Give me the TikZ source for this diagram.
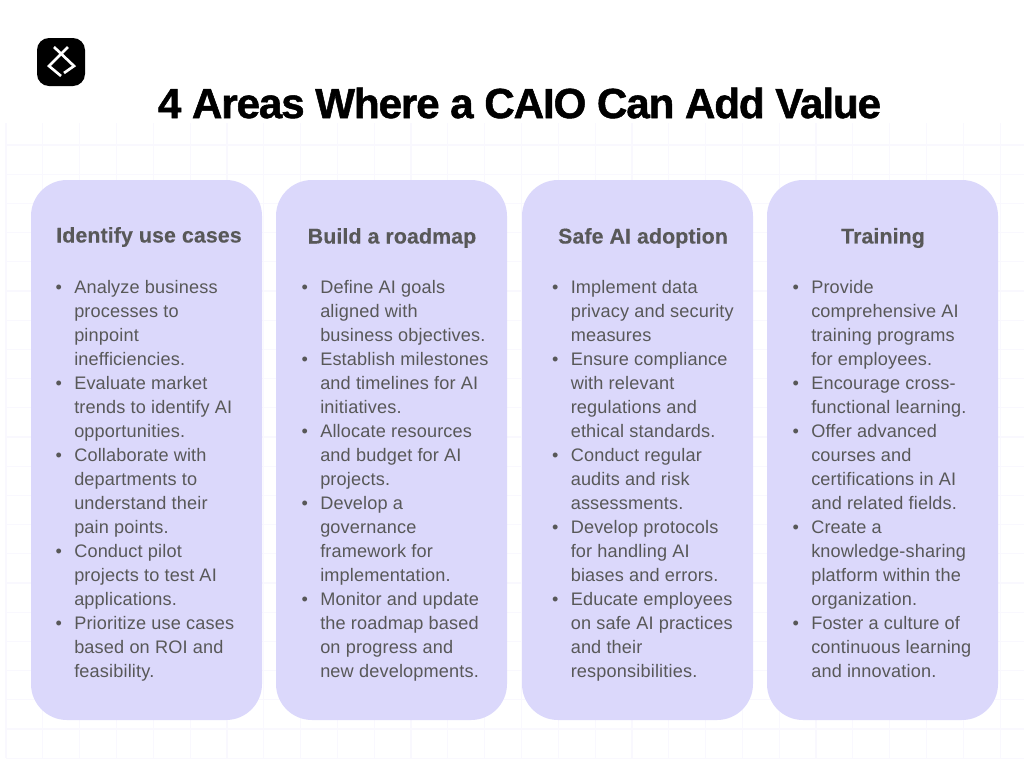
\documentclass[tikz,border=0pt]{standalone}
\usepackage{fontspec}
\setmainfont{Liberation Sans}[LetterSpace=0.9]
\newfontfamily\titlefont{Liberation Sans Bold}[LetterSpace=-2.6,FakeBold=1.2]
\newfontfamily\headfont{Liberation Sans Bold}[LetterSpace=0.5,FakeBold=0.3]
\usetikzlibrary{positioning}
\definecolor{cardfill}{HTML}{DBD8FB}
\definecolor{gridline}{HTML}{F9F8FE}
\definecolor{bodygray}{HTML}{585858}
\newcommand{\itm}{\leavevmode\llap{\textbullet\hskip 9.3pt}}
\tikzset{
  card/.style={fill=cardfill,rounded corners=27pt,minimum width=173.25pt,minimum height=405pt,inner sep=0pt},
  headline/.style={text=bodygray,font=\fontsize{16}{19}\headfont,inner sep=0pt},
  bodytext/.style={text=bodygray,font=\fontsize{13.6}{18}\selectfont,align=left,anchor=north west,inner sep=0pt},
  titletext/.style={text=black,font=\fontsize{31.6}{36}\titlefont,inner sep=0pt},
  gridrule/.style={draw=gridline,line width=0.9pt},
  logostroke/.style={draw=white,line width=2pt}
}
\begin{document}
\begin{tikzpicture}[x=0.75pt,y=-0.75pt]
  \useasboundingbox (0,0) rectangle (1024,768);
  \foreach \k in {0,...,27}
    \draw[gridrule] ({6+36.82*\k},123) -- ({6+36.82*\k},758);
  \foreach \k in {0,...,21}
    \draw[gridrule] (6,{145+29.2*\k}) -- (1024,{145+29.2*\k});

  \node[fill=black,rounded corners=9pt,minimum size=36pt,inner sep=0pt] (logo) at (61,62) {};
  \coordinate (lgA) at (68,47);
  \coordinate (lgC) at (49,66);
  \coordinate (lgD) at (61,76);
  \coordinate (lgG) at (54,47);
  \coordinate (lgE) at (74,66);
  \coordinate (lgF) at (64,73);
  \draw[logostroke] (lgA) -- (lgC) -- (lgD);
  \draw[logostroke] (lgG) -- (lgE) -- (lgF);

  \node[titletext] (title) at (519.5,103) {4 Areas Where a CAIO Can Add Value};

  \node[card] (card1) at (146.5,450) {};
  \node[card] (card2) at (391.5,450) {};
  \node[card] (card3) at (637.5,450) {};
  \node[card] (card4) at (882.5,450) {};

  \node[headline] (head1) at (149,237) {Identify use cases};
  \node[headline] (head2) at (392,238) {Build a roadmap};
  \node[headline] (head3) at (643,238) {Safe AI adoption};
  \node[headline] (head4) at (883,238) {Training};

  \node[bodytext] (body1) at (74,280.5) {\itm Analyze business\\ processes to\\ pinpoint\\ inefficiencies.\\
    \itm Evaluate market\\ trends to identify AI\\ opportunities.\\
    \itm Collaborate with\\ departments to\\ understand their\\ pain points.\\
    \itm Conduct pilot\\ projects to test AI\\ applications.\\
    \itm Prioritize use cases\\ based on ROI and\\ feasibility.};
  \node[bodytext] (body2) at (320,280.5) {\itm Define AI goals\\ aligned with\\ business objectives.\\
    \itm Establish milestones\\ and timelines for AI\\ initiatives.\\
    \itm Allocate resources\\ and budget for AI\\ projects.\\
    \itm Develop a\\ governance\\ framework for\\ implementation.\\
    \itm Monitor and update\\ the roadmap based\\ on progress and\\ new developments.};
  \node[bodytext] (body3) at (570.5,280.5) {\itm Implement data\\ privacy and security\\ measures\\
    \itm Ensure compliance\\ with relevant\\ regulations and\\ ethical standards.\\
    \itm Conduct regular\\ audits and risk\\ assessments.\\
    \itm Develop protocols\\ for handling AI\\ biases and errors.\\
    \itm Educate employees\\ on safe AI practices\\ and their\\ responsibilities.};
  \node[bodytext] (body4) at (811,280.5) {\itm Provide\\ comprehensive AI\\ training programs\\ for employees.\\
    \itm Encourage cross-\\ functional learning.\\
    \itm Offer advanced\\ courses and\\ certifications in AI\\ and related fields.\\
    \itm Create a\\ knowledge-sharing\\ platform within the\\ organization.\\
    \itm Foster a culture of\\ continuous learning\\ and innovation.};
\end{tikzpicture}
\end{document}
